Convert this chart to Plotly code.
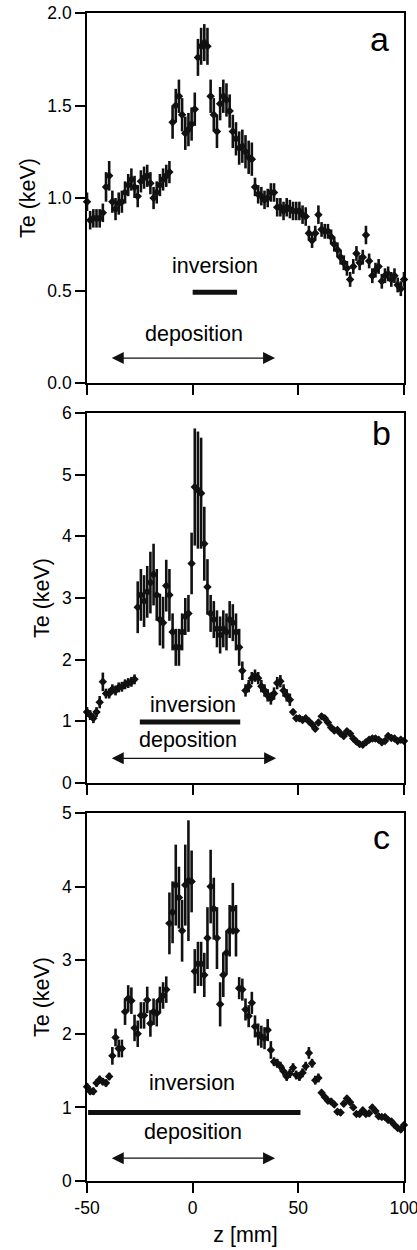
import plotly.graph_objects as go

# ---------------- data ----------------
Z_MM = [-50, -48.5, -47, -45.5, -44, -42.5, -41, -39.5, -38, -36.5,
        -35, -33.5, -32, -30.5, -29, -27.5, -26, -24.5, -23, -21.5,
        -20, -18.5, -17, -15.5, -14, -12.5, -11, -9.5, -8, -6.5,
        -5, -3.5, -2, -0.5, 1, 2.5, 4, 5.5, 7, 8.5,
        10, 11.5, 13, 14.5, 16, 17.5, 19, 20.5, 22, 23.5,
        25, 26.5, 28, 29.5, 31, 32.5, 34, 35.5, 37, 38.5,
        40, 41.5, 43, 44.5, 46, 47.5, 49, 50.5, 52, 53.5,
        55, 56.5, 58, 59.5, 61, 62.5, 64, 65.5, 67, 68.5,
        70, 71.5, 73, 74.5, 76, 77.5, 79, 80.5, 82, 83.5,
        85, 86.5, 88, 89.5, 91, 92.5, 94, 95.5, 97, 98.5,
        100]

TE_A = [0.98, 0.88, 0.89, 0.89, 0.89, 0.92, 1.06, 1.12, 0.98, 0.94,
        0.97, 0.98, 1.03, 1.07, 1.10, 1.06, 1.01, 1.09, 1.11, 1.12,
        1.08, 1.00, 1.03, 1.07, 1.10, 1.12, 1.14, 1.41, 1.50, 1.55,
        1.45, 1.35, 1.37, 1.40, 1.48, 1.76, 1.82, 1.84, 1.82, 1.55,
        1.45, 1.36, 1.51, 1.55, 1.53, 1.47, 1.36, 1.32, 1.27, 1.28,
        1.25, 1.22, 1.21, 1.06, 1.02, 1.01, 0.99, 1.00, 1.03, 1.03,
        0.95, 0.95, 0.93, 0.95, 0.94, 0.93, 0.93, 0.93, 0.91, 0.90,
        0.81, 0.77, 0.81, 0.91, 0.83, 0.82, 0.82, 0.79, 0.75, 0.72,
        0.68, 0.65, 0.62, 0.56, 0.63, 0.70, 0.65, 0.68, 0.80, 0.66,
        0.58, 0.61, 0.63, 0.55, 0.58, 0.59, 0.56, 0.58, 0.53, 0.51,
        0.56]
ERR_A = [0.05, 0.05, 0.05, 0.05, 0.05, 0.05, 0.08, 0.08, 0.06, 0.06,
         0.06, 0.06, 0.06, 0.06, 0.06, 0.06, 0.06, 0.06, 0.06, 0.06,
         0.06, 0.06, 0.06, 0.06, 0.06, 0.06, 0.06, 0.09, 0.09, 0.09,
         0.09, 0.09, 0.09, 0.09, 0.09, 0.10, 0.10, 0.10, 0.10, 0.09,
         0.09, 0.09, 0.09, 0.09, 0.09, 0.09, 0.09, 0.09, 0.09, 0.09,
         0.09, 0.09, 0.09, 0.05, 0.05, 0.05, 0.05, 0.05, 0.05, 0.05,
         0.05, 0.05, 0.05, 0.05, 0.05, 0.05, 0.05, 0.05, 0.05, 0.05,
         0.04, 0.04, 0.04, 0.05, 0.04, 0.04, 0.04, 0.04, 0.04, 0.04,
         0.04, 0.04, 0.04, 0.04, 0.04, 0.04, 0.04, 0.04, 0.05, 0.04,
         0.04, 0.04, 0.04, 0.04, 0.04, 0.04, 0.04, 0.04, 0.04, 0.04,
         0.04]

TE_B = [1.15, 1.10, 1.05, 1.15, 1.31, 1.64, 1.45, 1.45, 1.52, 1.50,
        1.55, 1.56, 1.60, 1.62, 1.64, 1.68, 2.85, 3.05, 2.95, 3.10,
        3.25, 3.38, 3.05, 2.65, 2.60, 3.20, 3.05, 2.45, 2.20, 2.20,
        2.45, 2.70, 2.75, 3.56, 4.80, 4.75, 4.70, 3.88, 3.18, 2.75,
        2.65, 2.50, 2.40, 2.50, 2.45, 2.65, 2.60, 2.45, 2.20, 1.82,
        1.50, 1.57, 1.70, 1.74, 1.70, 1.57, 1.50, 1.42, 1.37, 1.45,
        1.62, 1.65, 1.50, 1.42, 1.35, 1.15, 1.05, 1.05, 1.02, 1.05,
        1.00, 0.95, 0.88, 0.98, 1.08, 1.05, 0.98, 0.90, 0.85, 0.86,
        0.80, 0.76, 0.84, 0.80, 0.72, 0.67, 0.63, 0.62, 0.66, 0.70,
        0.72, 0.72, 0.70, 0.66, 0.68, 0.76, 0.73, 0.72, 0.68, 0.70,
        0.68]
ERR_B = [0.08, 0.08, 0.08, 0.08, 0.10, 0.15, 0.08, 0.08, 0.08, 0.08,
         0.08, 0.08, 0.08, 0.08, 0.08, 0.08, 0.42, 0.42, 0.42, 0.42,
         0.50, 0.50, 0.42, 0.42, 0.42, 0.42, 0.42, 0.30, 0.30, 0.30,
         0.30, 0.30, 0.30, 0.50, 0.95, 0.95, 0.90, 0.60, 0.45, 0.30,
         0.30, 0.30, 0.30, 0.30, 0.30, 0.30, 0.30, 0.30, 0.30, 0.15,
         0.10, 0.10, 0.10, 0.10, 0.10, 0.10, 0.10, 0.10, 0.10, 0.10,
         0.10, 0.10, 0.10, 0.10, 0.10, 0.05, 0.05, 0.05, 0.05, 0.05,
         0.05, 0.05, 0.05, 0.05, 0.05, 0.05, 0.05, 0.05, 0.05, 0.05,
         0.05, 0.05, 0.05, 0.05, 0.05, 0.05, 0.05, 0.05, 0.05, 0.05,
         0.05, 0.05, 0.05, 0.05, 0.05, 0.05, 0.05, 0.05, 0.05, 0.05,
         0.05]

TE_C = [1.28, 1.22, 1.22, 1.33, 1.38, 1.35, 1.33, 1.42, 1.70, 1.95,
        1.80, 1.80, 2.30, 2.48, 2.45, 2.08, 2.00, 2.25, 2.25, 2.46,
        2.14, 2.30, 2.28, 2.46, 2.52, 2.60, 3.50, 3.65, 4.02, 3.85,
        3.40, 4.02, 4.08, 4.07, 2.85, 2.95, 2.95, 2.80, 3.30, 4.00,
        3.70, 3.30, 2.40, 2.80, 3.10, 3.40, 3.70, 3.40, 2.62, 2.60,
        2.33, 2.24, 2.42, 2.10, 1.99, 1.96, 1.94, 2.05, 1.78, 1.62,
        1.60, 1.56, 1.49, 1.42, 1.46, 1.54, 1.44, 1.42, 1.47, 1.56,
        1.74, 1.60, 1.37, 1.40, 1.20, 1.14, 1.09, 1.08, 1.04, 0.94,
        0.93, 1.05, 1.12, 1.07, 1.00, 0.91, 0.91, 0.96, 0.91, 0.92,
        1.00, 0.95, 0.88, 0.87, 0.87, 0.83, 0.81, 0.76, 0.72, 0.70,
        0.76]
ERR_C = [0.05, 0.05, 0.05, 0.05, 0.05, 0.05, 0.05, 0.05, 0.12, 0.12,
         0.12, 0.12, 0.18, 0.18, 0.18, 0.18, 0.18, 0.18, 0.18, 0.18,
         0.18, 0.18, 0.18, 0.18, 0.18, 0.18, 0.42, 0.42, 0.55, 0.42,
         0.42, 0.55, 0.82, 0.42, 0.30, 0.30, 0.30, 0.30, 0.42, 0.50,
         0.42, 0.42, 0.30, 0.30, 0.30, 0.35, 0.35, 0.35, 0.15, 0.15,
         0.15, 0.15, 0.15, 0.15, 0.15, 0.15, 0.15, 0.15, 0.12, 0.06,
         0.06, 0.06, 0.06, 0.06, 0.06, 0.06, 0.06, 0.06, 0.06, 0.06,
         0.08, 0.06, 0.06, 0.06, 0.04, 0.04, 0.04, 0.04, 0.04, 0.04,
         0.04, 0.04, 0.04, 0.04, 0.04, 0.04, 0.04, 0.04, 0.04, 0.04,
         0.04, 0.04, 0.04, 0.04, 0.04, 0.04, 0.04, 0.04, 0.04, 0.04,
         0.04]

PANEL_LABELS = ["a", "b", "c"]
X_TICKS = [-50, 0, 50, 100]
X_TICKTEXT = ["-50", "0", "50", "100"]
Y_TICKS_A = [0, 0.5, 1.0, 1.5, 2.0]
Y_TICKTEXT_A = ["0.0", "0.5", "1.0", "1.5", "2.0"]
Y_TICKS_B = [0, 1, 2, 3, 4, 5, 6]
Y_TICKS_C = [0, 1, 2, 3, 4, 5]
Y_RANGE_A = [0, 2.0]
Y_RANGE_B = [0, 6]
Y_RANGE_C = [0, 5]

# inversion bars (z start, z end, Te level) and deposition arrows
INV_A = (0, 21, 0.49)
INV_B = (-25, 22.5, 0.99)
INV_C = (-49.5, 51, 0.93)
DEP_A = (-39, 39, 0.135)
DEP_B = (-39, 39.5, 0.40)
DEP_C = (-39, 39, 0.31)

FONT = "Liberation Sans, Arial, Helvetica, sans-serif"
INK = "#111111"

fig = go.Figure()

panels = [
    ("x", "y", TE_A, ERR_A),
    ("x2", "y2", TE_B, ERR_B),
    ("x3", "y3", TE_C, ERR_C),
]
for xa, ya, te, err in panels:
    fig.add_trace(go.Scatter(
        x=Z_MM, y=te, xaxis=xa, yaxis=ya, mode="markers",
        marker=dict(symbol="diamond", size=6.5, color=INK),
        error_y=dict(type="data", array=err, visible=True,
                     thickness=2.6, width=0, color=INK),
        cliponaxis=False, showlegend=False, hoverinfo="skip",
    ))

# domains (fractions of plot area)
DOM_A = [0.6832, 1.0]
DOM_B = [0.3408, 0.6575]
DOM_C = [0.0, 0.3151]

axis_common = dict(showline=True, linecolor="black", linewidth=1.6,
                   mirror=True, ticks="outside", ticklen=10, tickwidth=1.6,
                   tickcolor="black", showgrid=False, zeroline=False,
                   automargin=False, ticklabeloverflow="allow",
                   tickfont=dict(family=FONT, size=17.5, color="black"))

xcommon = dict(axis_common, range=[-50, 100], tickvals=X_TICKS,
               ticktext=X_TICKTEXT, domain=[0, 1])
ytitle = dict(text="Te (keV)", font=dict(family=FONT, size=21.5, color="black"),
              standoff=6)

fig.update_layout(
    width=417, height=1250,
    margin=dict(l=87, r=13, t=13, b=69, autoexpand=False),
    paper_bgcolor="white", plot_bgcolor="white",
    font=dict(family=FONT, color="black"),
    xaxis=dict(xcommon, anchor="y", showticklabels=False),
    yaxis=dict(axis_common, domain=DOM_A, range=Y_RANGE_A, anchor="x",
               tickvals=Y_TICKS_A, ticktext=Y_TICKTEXT_A, title=ytitle),
    xaxis2=dict(xcommon, anchor="y2", showticklabels=False),
    yaxis2=dict(axis_common, domain=DOM_B, range=Y_RANGE_B, anchor="x2",
                tickvals=Y_TICKS_B, title=ytitle),
    xaxis3=dict(xcommon, anchor="y3", showticklabels=True,
                title=dict(text="z [mm]",
                           font=dict(family=FONT, size=21.5, color="black"),
                           standoff=10)),
    yaxis3=dict(axis_common, domain=DOM_C, range=Y_RANGE_C, anchor="x3",
                tickvals=Y_TICKS_C, title=ytitle),
)

txt = dict(family=FONT, size=21.5, color="black")
big = dict(family=FONT, size=34, color="black")

specs = [
    ("x", "y", PANEL_LABELS[0], (88.5, 1.86), INV_A, DEP_A, (10.5, 0.63), (0.5, 0.265)),
    ("x2", "y2", PANEL_LABELS[1], (89.5, 5.68), INV_B, DEP_B, (0, 1.26), (-2, 0.69)),
    ("x3", "y3", PANEL_LABELS[2], (89.5, 4.67), INV_C, DEP_C, (-0.5, 1.33), (0.3, 0.67)),
]
for xa, ya, lab, labpos, inv, dep, invtxt, deptxt in specs:
    fig.add_annotation(x=labpos[0], y=labpos[1], xref=xa, yref=ya, text=lab,
                       showarrow=False, font=big, xanchor="center", yanchor="middle")
    fig.add_annotation(x=invtxt[0], y=invtxt[1], xref=xa, yref=ya, text="inversion",
                       showarrow=False, font=txt, xanchor="center", yanchor="middle")
    fig.add_annotation(x=deptxt[0], y=deptxt[1], xref=xa, yref=ya, text="deposition",
                       showarrow=False, font=txt, xanchor="center", yanchor="middle")
    fig.add_shape(type="line", xref=xa, yref=ya, x0=inv[0], x1=inv[1],
                  y0=inv[2], y1=inv[2], line=dict(color=INK, width=5))
    fig.add_annotation(x=dep[1], y=dep[2], ax=dep[0], ay=dep[2], xref=xa, yref=ya,
                       axref=xa, ayref=ya, text="", showarrow=True,
                       arrowhead=2, arrowside="end+start", arrowsize=2.0,
                       arrowwidth=1.2, arrowcolor=INK, standoff=0, startstandoff=0)

fig.write_html("out.html")
